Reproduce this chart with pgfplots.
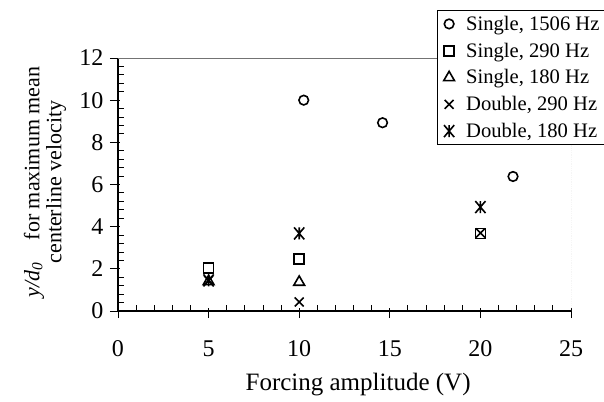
\documentclass[border=0pt]{standalone}
\usepackage{fontspec}
\setmainfont{Liberation Serif}
\usepackage{pgfplots}
\pgfplotsset{compat=1.18}
\pgfdeclareplotmark{xbar}{%
  \pgfpathmoveto{\pgfqpoint{-0.85\pgfplotmarksize}{-\pgfplotmarksize}}%
  \pgfpathlineto{\pgfqpoint{0.85\pgfplotmarksize}{\pgfplotmarksize}}%
  \pgfpathmoveto{\pgfqpoint{-0.85\pgfplotmarksize}{\pgfplotmarksize}}%
  \pgfpathlineto{\pgfqpoint{0.85\pgfplotmarksize}{-\pgfplotmarksize}}%
  \pgfpathmoveto{\pgfqpoint{0pt}{-\pgfplotmarksize}}%
  \pgfpathlineto{\pgfqpoint{0pt}{\pgfplotmarksize}}%
  \pgfusepathqstroke}
\newcommand{\lgf}{\fontsize{20.6}{23}\selectfont}
\begin{document}
\begin{tikzpicture}
\path[use as bounding box] (-118pt,-90pt) rectangle (486pt,311pt);
\begin{axis}[
  at={(0,0)}, anchor=south west,
  scale only axis, width=453pt, height=253pt,
  xmin=0, xmax=25, ymin=0, ymax=12,
  xtick={0,5,...,25}, ytick={0,2,...,12},
  minor x tick num=4, minor y tick num=4,
  axis x line*=bottom, axis y line*=left,
  axis line style={-, line width=1.2pt, black},
  x axis line style={-}, y axis line style={-},
  tick align=inside,
  major tick length=10pt, minor tick length=6pt,
  tick style={line width=0.9pt, black},
  every major x tick/.append style={yshift=-7pt},
  every major y tick/.append style={xshift=-8pt},
  /pgf/number format/assume math mode=true,
  ticklabel style={font=\fontsize{24}{26}\selectfont},
  xticklabel style={yshift=-26pt},
  yticklabel style={xshift=-11pt},
  xlabel={Forcing amplitude (V)},
  xlabel style={at={(axis description cs:0.53,0)}, anchor=base, yshift=-79pt, font=\fontsize{25}{26}\selectfont},
  ylabel={\textit{y/d}\textsubscript{\textit{0}}\quad for maximum mean\\centerline velocity},
  ylabel style={at={(axis description cs:0,0.51)}, anchor=center, yshift=73pt, align=center, font=\fontsize{22}{22}\selectfont},
  legend style={at={(axis description cs:0.704,1.19)}, anchor=north west, draw=black, line width=1.2pt,
    font=\lgf, nodes={inner sep=1pt, font=\lgf}, cells={anchor=west}, row sep=9pt, inner sep=4.5pt},
  legend image code/.code={\path (-6.5pt,0pt) (15.5pt,0pt); \draw[#1] plot coordinates {(0pt,0pt)};},
  mk/.style={only marks, black, mark options={solid, line width=1.6pt, black}},
]
\draw[black!55, line width=0.8pt] (rel axis cs:0,1) -- (rel axis cs:1,1);
\draw[black!30, line width=0.8pt, densely dotted] (rel axis cs:1,0) -- (rel axis cs:1,1);
\addplot[mk, mark=o, mark size=4.8pt] coordinates {(10.25,10.0) (14.6,8.93) (21.8,6.38)};
\addlegendentry{\lgf Single, 1506 Hz}
\addplot[mk, mark=square, mark size=5pt] coordinates {(5,2.03) (10,2.46) (20,3.68)};
\addlegendentry{\lgf Single, 290 Hz}
\addplot[mk, mark=triangle, mark size=6.2pt] coordinates {(5,1.4) (10,1.37)};
\addlegendentry{\lgf Single, 180 Hz}
\addplot[mk, mark=x, mark size=6.3pt] coordinates {(5,1.45) (10,0.43) (20,3.7)};
\addlegendentry{\lgf Double, 290 Hz}
\addplot[mk, mark=xbar, mark size=6pt] coordinates {(5,1.45) (10,3.68) (20,4.93)};
\addlegendentry{\lgf Double, 180 Hz}
\end{axis}
\end{tikzpicture}
\end{document}
